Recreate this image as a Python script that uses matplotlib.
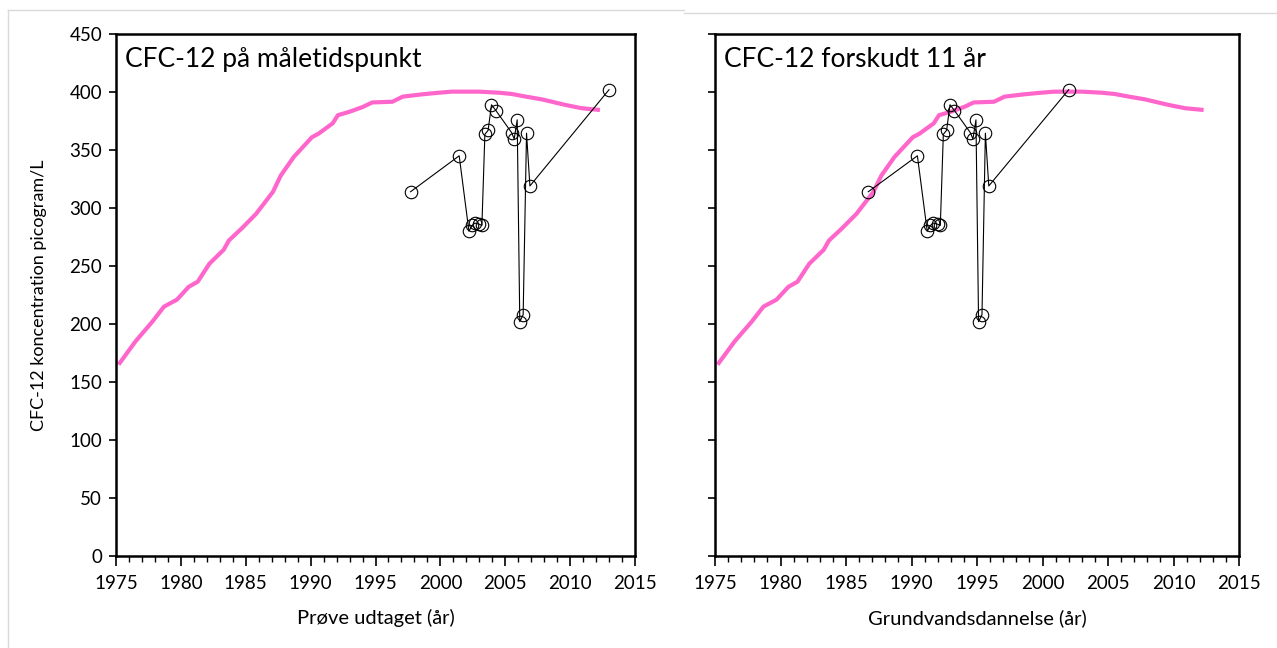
import numpy as np
import matplotlib
matplotlib.use('Agg')
from matplotlib import pylab as plt
from matplotlib.lines import Line2D
from matplotlib.ticker import MultipleLocator

plt.rcParams['font.family'] = ['Lato', 'DejaVu Sans']

CURVE_COLOR = '#ff66cc'
SAMPLE_COLOR = 'black'
BORDER_COLOR = '#d9d9d9'

# atmospheric CFC-12 curve (equilibrium concentration)
curve_year = [1975.2, 1976.5, 1977.8, 1978.7, 1979.7, 1980.6, 1981.3, 1982.2, 1983.3, 1983.7,
              1984.7, 1985.8, 1987.1, 1987.7, 1988.7, 1990.1, 1990.6, 1991.7, 1992.1, 1993.0,
              1994.0, 1994.75, 1996.3, 1997.1, 1998.6, 1999.9, 2000.9, 2003.0, 2004.5, 2005.5,
              2006.6, 2007.8, 2009.65, 2010.9, 2012.3]
curve_val = [165, 185, 202, 215, 221, 232, 236.5, 252, 264, 272,
             282.5, 295, 314, 328, 344, 361, 364, 373, 380, 383,
             387, 391, 391.6, 396, 398, 399.4, 400.3, 400.3, 399.4, 398.3,
             396, 393.7, 388.8, 386, 384.5]

# groundwater samples
sample_year = [1997.7, 2001.45, 2002.2, 2002.45, 2002.65, 2003.0, 2003.2, 2003.43, 2003.68, 2003.94,
               2004.28, 2005.49, 2005.69, 2005.92, 2006.12, 2006.38, 2006.64, 2006.9, 2013.0]
sample_val = [314, 345, 280, 285, 287, 286, 285, 363.5, 367, 389,
              384, 365, 359.5, 376, 202, 208, 364.5, 319, 402]
shift_years = 11

panels = [('CFC-12 på måletidspunkt', 'Prøve udtaget (år)', 0),
          ('CFC-12 forskudt 11 år', 'Grundvandsdannelse (år)', shift_years)]

fig = plt.figure(figsize=(12.77, 6.48), dpi=100)
fig.patch.set_facecolor('white')

axes_pos = [[116 / 1277, 1 - 556 / 648, 519 / 1277, 522 / 648],
            [715 / 1277, 1 - 556 / 648, 524 / 1277, 522 / 648]]

for i, (title, xlabel, shift) in enumerate(panels):
    ax = fig.add_axes(axes_pos[i])
    ax.plot(curve_year, curve_val, color=CURVE_COLOR, lw=3, solid_capstyle='butt', zorder=2)
    xs = np.array(sample_year) - shift
    ax.plot(xs, sample_val, color=SAMPLE_COLOR, lw=0.8, marker='o', ms=9,
            mfc='none', mec=SAMPLE_COLOR, mew=0.8, zorder=3)
    ax.set_xlim(1975, 2015)
    ax.set_ylim(0, 450)
    ax.xaxis.set_major_locator(MultipleLocator(5))
    ax.xaxis.set_minor_locator(MultipleLocator(1))
    ax.yaxis.set_major_locator(MultipleLocator(50))
    ax.tick_params(axis='x', which='major', direction='out', length=7, width=1.2,
                   labelsize=13.5, pad=7)
    ax.tick_params(axis='x', which='minor', direction='out', length=4, width=1.0)
    ax.tick_params(axis='y', which='major', direction='out', length=5, width=1.2,
                   labelsize=13.5, pad=5)
    for sp in ax.spines.values():
        sp.set_linewidth(1.8)
    ax.set_xlabel(xlabel, fontsize=14.5, labelpad=12)
    ax.text(0.018, 0.975, title, transform=ax.transAxes, fontsize=19,
            ha='left', va='top')
    if i == 0:
        ax.set_ylabel('CFC-12 koncentration picogram/L', fontsize=13, labelpad=16)
    else:
        ax.set_yticklabels([])

# light chart borders from the original screenshot
fig.add_artist(Line2D([8 / 1277, 684 / 1277], [1 - 10 / 648, 1 - 10 / 648],
                      color=BORDER_COLOR, lw=1))
fig.add_artist(Line2D([8 / 1277, 8 / 1277], [0, 1 - 10 / 648],
                      color=BORDER_COLOR, lw=1))
fig.add_artist(Line2D([684 / 1277, 1], [1 - 13 / 648, 1 - 13 / 648],
                      color=BORDER_COLOR, lw=1))

plt.savefig('out.png', dpi=100)
